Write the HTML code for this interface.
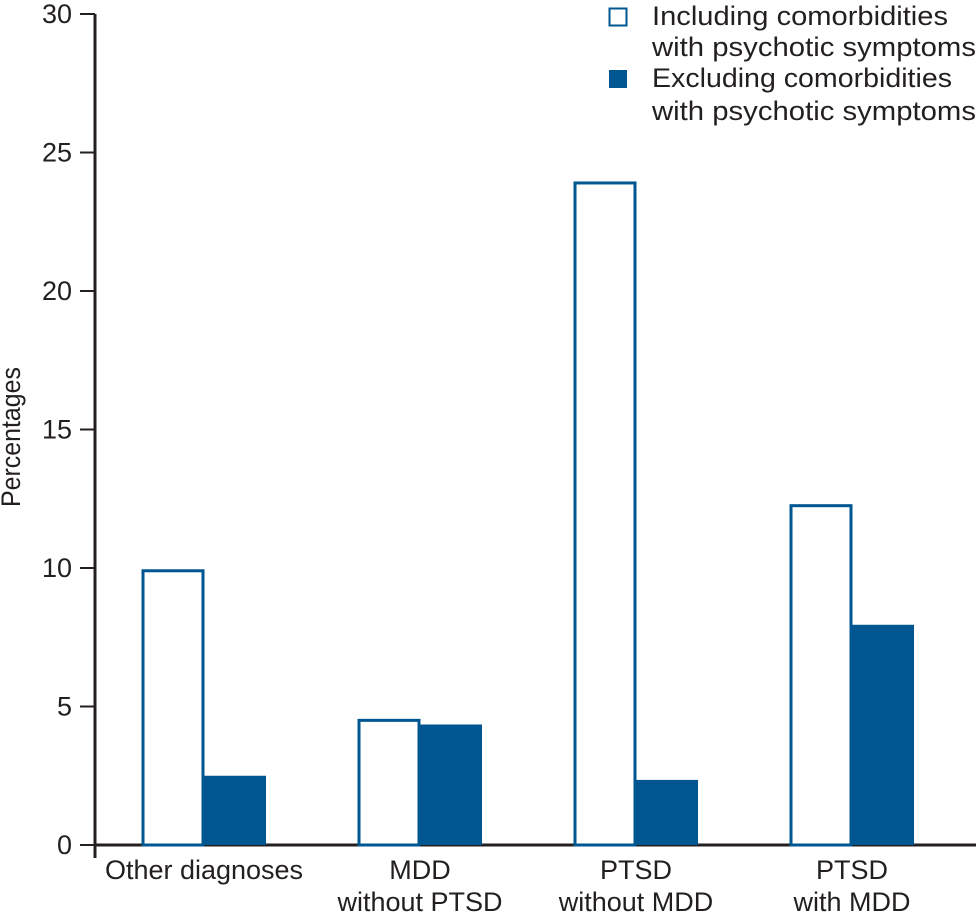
<!DOCTYPE html>
<html><head><meta charset="utf-8"><style>
body{margin:0;background:#fff;}
svg text{font-family:"Liberation Sans",sans-serif;fill:#231f20;}
</style></head><body>
<svg width="976" height="914">
<g id="axes"></g><g id="bars"></g>
<g>
<rect x="609.5" y="8.5" width="17" height="17" fill="#fff" stroke="#005691" stroke-width="2"/>
<text x="652" y="25" font-size="27" textLength="296" lengthAdjust="spacingAndGlyphs">Including comorbidities</text>
<text x="652" y="56" font-size="27" textLength="324" lengthAdjust="spacingAndGlyphs">with psychotic symptoms</text>
<rect x="609" y="70" width="18" height="18" fill="#005691"/>
<text x="652" y="87" font-size="27" textLength="300" lengthAdjust="spacingAndGlyphs">Excluding comorbidities</text>
<text x="652" y="120" font-size="27" textLength="324" lengthAdjust="spacingAndGlyphs">with psychotic symptoms</text>
</g>
<text transform="translate(20,437) rotate(-90)" text-anchor="middle" font-size="27" textLength="140" lengthAdjust="spacingAndGlyphs">Percentages</text>
</svg>
<script>
const categories=[["Other diagnoses"],["MDD","without PTSD"],["PTSD","without MDD"],["PTSD","with MDD"]];
const including=[9.9,4.5,23.9,12.25];
const excluding=[2.5,4.35,2.35,7.95];
const yTicks=[0,5,10,15,20,25,30];
const NS="http://www.w3.org/2000/svg";
const y=v=>845-v*(831/30);
const groupX=[142,358,574,790];
const bw=62;
function mk(tag,attrs,parent,txt){const e=document.createElementNS(NS,tag);for(const k in attrs)e.setAttribute(k,attrs[k]);if(txt!==undefined)e.textContent=txt;parent.appendChild(e);return e;}
const ax=document.getElementById('axes'),bars=document.getElementById('bars');
let l=mk('line',{x1:95,y1:y(30),x2:95,y2:858,stroke:'#231f20','stroke-width':3},ax);


l=mk('line',{x1:94,y1:845,x2:976,y2:845,stroke:'#231f20','stroke-width':3},ax);


yTicks.forEach(t=>{
 const tk=mk('line',{x1:80,y1:y(t),x2:95,y2:y(t),stroke:'#231f20','stroke-width':2},ax);
 
 
 const tx=mk('text',{x:72,y:y(t)+9,'text-anchor':'end','font-size':27},ax,String(t));
 
 
});
categories.forEach((c,i)=>{
 const x0=groupX[i];
 const b1=mk('rect',{x:x0+1,y:y(including[i]),width:bw-2,height:845-y(including[i]),fill:'#fff',stroke:'#005691','stroke-width':3},bars);
 
 
 const b2=mk('rect',{x:x0+bw,y:y(excluding[i]),width:bw,height:845-y(excluding[i]),fill:'#005691'},bars);
 
 
 c.forEach((line,j)=>{
  const t=mk('text',{x:x0+bw,y:879+j*32,'text-anchor':'middle','font-size':27},bars,line);
  
  
 });
});
</script>
</body></html>
